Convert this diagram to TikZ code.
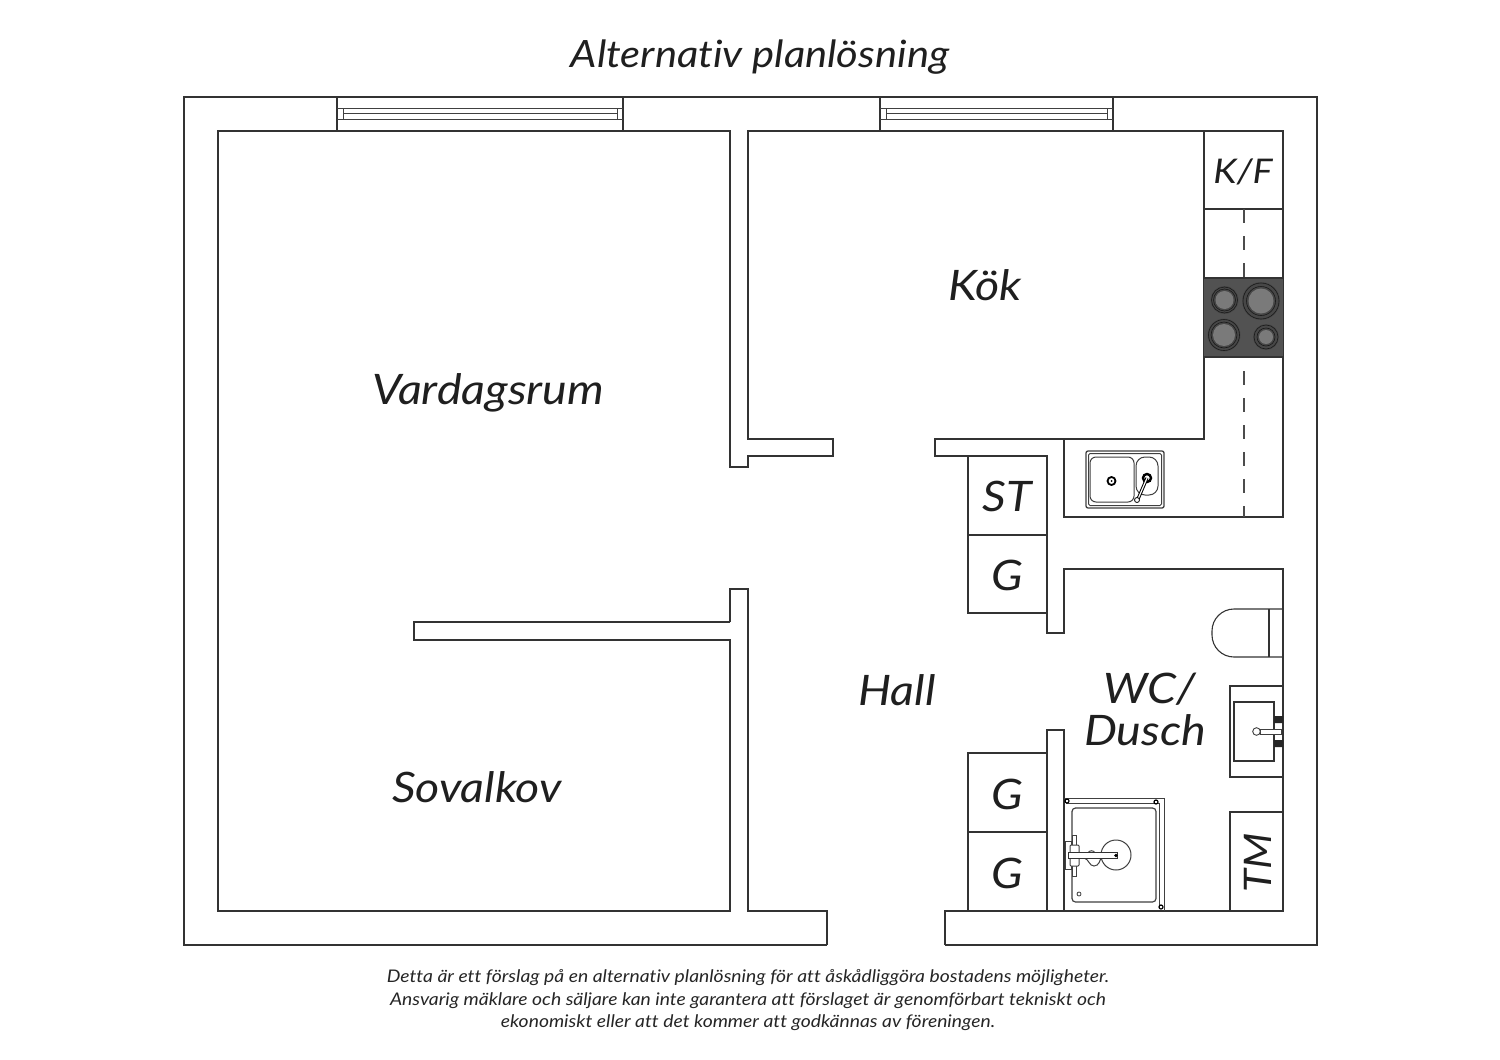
\documentclass[tikz,border=0pt]{standalone}
\usepackage{fontspec}
\setmainfont{Lato}[Ligatures=CommonOff,FakeStretch=1.11]
\begin{document}
\begin{tikzpicture}[x=1pt,y=-1pt,
  wall/.style={draw=black!80,line width=1.25pt,line join=miter},
  thin/.style={draw=black!75,line width=1pt},
  lab/.style={inner sep=0pt,font=\fontsize{42}{46}\selectfont\itshape,text=black!88},
  small/.style={inner sep=0pt,font=\fontsize{17.4}{20}\selectfont\itshape,text=black!85}]
\useasboundingbox[fill=white] (0,0) rectangle (1500,1060);
% outer wall
\draw[wall] (827,945) -- (184,945) -- (184,97) -- (1317,97) -- (1317,945) -- (945,945);
% main wall line
\draw[wall] (730,622) -- (414,622) -- (414,640) -- (730,640) -- (730,911) -- (218,911) -- (218,131) -- (730,131) -- (730,467) -- (748,467) -- (748,456) -- (833,456) -- (833,439) -- (748,439) -- (748,131) -- (1283,131) -- (1283,517) -- (1064,517) -- (1064,439);
\draw[wall] (730,622) -- (730,589) -- (748,589) -- (748,911) -- (827,911) -- (827,945);
\draw[wall] (1204,131) -- (1204,439) -- (935,439) -- (935,456) -- (1047,456) -- (1047,633) -- (1064,633) -- (1064,569) -- (1283,569) -- (1283,911) -- (945,911) -- (945,945);
\draw[wall] (1047,911) -- (1047,730) -- (1064,730) -- (1064,911);
% cabinets
\draw[wall] (968,456) -- (968,613) -- (1047,613);
\draw[wall] (968,535) -- (1047,535);
\draw[wall] (968,911) -- (968,753) -- (1047,753);
\draw[wall] (968,832) -- (1047,832);
\draw[wall] (1204,209) -- (1283,209);
\draw[wall] (1230,911) -- (1230,812) -- (1283,812);
% windows
\foreach \a/\b in {337/623,880/1113}{
  \draw[wall] (\a,97) -- (\a,131);
  \draw[wall] (\b,97) -- (\b,131);
  \draw[thin] (\a,108) -- (\b,108);
  \draw[thin] (\a,119) -- (\b,119);
  \draw[thin] (\a+6,113.5) -- (\b-6,113.5);
  \draw[thin] (\a+6,108) -- (\a+6,119);
  \draw[thin] (\b-6,108) -- (\b-6,119);
}
% counter dashes
\draw[draw=black!70,line width=1.3pt,dash pattern=on 14pt off 13pt] (1244,209) -- (1244,517);
% stove
\fill[black!68] (1204,278) rectangle (1283,357);
\draw[wall] (1204,278) -- (1283,278) (1204,357) -- (1283,357);
\foreach \x/\y/\r/\i in {1224.5/300/14/9,1261/301/19/12.5,1224/335/16.5/11,1266/337/13/7}{
  \fill[black!72] (\x,\y) circle[radius=\r];
  \draw[black!90,line width=.6pt] (\x,\y) circle[radius=\r-1];
  \draw[black!90,line width=.6pt] (\x,\y) circle[radius=\i+2];
  \fill[black!52] (\x,\y) circle[radius=\i];
}
% sink
\draw[thin,rounded corners=2pt,line width=1.3pt] (1086,451) rectangle (1164,508);
\draw[thin,rounded corners=1.5pt] (1088.5,453.5) rectangle (1161.5,505.5);
\draw[thin,rounded corners=6pt] (1090,457) rectangle (1134,502);
\draw[thin,rounded corners=9pt] (1136,457) rectangle (1158,495);
\draw[black,line width=1.8pt] (1111.5,481) circle[radius=4];
\fill[black] (1111.5,481) circle[radius=1];
\draw[black,line width=2.4pt] (1147,478) circle[radius=4];
\draw[black,line width=3.2pt] (1147,478) -- (1138,499);
\draw[white,line width=1.2pt] (1147,478) -- (1138,499);
\draw[black,fill=white,line width=.8pt] (1137,500) circle[radius=2.5];
% toilet
\draw[wall,line width=1.1pt,rounded corners=22pt] (1283,609) -- (1212,609) -- (1212,657) -- (1283,657);
\draw[wall,line width=1.1pt] (1269,609) -- (1269,657);
% basin
\draw[wall,line width=1.1pt] (1283,686) -- (1230,686) -- (1230,777) -- (1283,777);
\draw[wall,line width=1.1pt] (1234,702) rectangle (1274,761);
\fill[black!85] (1274,716) rectangle (1283,723) (1274,740) rectangle (1283,747);
\draw[black!75,line width=.9pt,fill=white] (1260,729) rectangle (1281,734);
\draw[black!75,line width=.9pt,fill=white] (1256.5,731.5) circle[radius=3.8];
% shower
\draw[thin] (1064,798) -- (1164,798) -- (1164,911);
\draw[thin] (1066,803) -- (1159,803) -- (1159,909);
\draw[thin,line width=1.2pt,rounded corners=3.5pt] (1072,808) rectangle (1156,902);
\draw[thin] (1116,855) circle[radius=15];
\draw[thin,fill=white] (1072,835) rectangle (1076,876);
\draw[thin,fill=white] (1065,841) rectangle (1071,869);
\draw[thin,rounded corners=1pt,fill=white] (1070,845) rectangle (1079,866);
\draw[thin] (1084,858) .. controls (1089,859) and (1089,866) .. (1094,866) .. controls (1099,866) and (1100,860) .. (1101,858);
\draw[thin] (1088,853) .. controls (1089,850) and (1094,850) .. (1095,853);
\draw[black!80,line width=1pt,fill=white] (1068,852.5) rectangle (1117,858.5);
\fill[black] (1116,855.5) circle[radius=1.8];
\foreach \x/\y in {1067/801,1156/802,1161/907}{\draw[black,line width=1.2pt] (\x,\y) circle[radius=2];}
\draw[black!75,line width=.8pt] (1079,894) circle[radius=2];
% labels
\node[inner sep=0pt,font=\fontsize{37.6}{42}\selectfont\itshape,text=black!88] (title) at (760,57) {Alternativ planlösning};
\node[lab] (vard) at (488,393) {Vardagsrum};
\node[lab] (kok) at (985,285) {Kök};
\node[lab] (sova) at (477,787) {Sovalkov};
\node[lab] (hall) at (897,690) {Hall};
\node[lab] (wc) at (1150,689) {WC/};
\node[lab] (dusch) at (1145,730) {Dusch};
\node[lab] (st) at (1007,496) {ST};
\node[lab] (g1) at (1007,575) {G};
\node[lab] (g2) at (1007,794) {G};
\node[lab] (g3) at (1007,873) {G};
\node[lab,font=\fontsize{34}{40}\selectfont\itshape] (kf) at (1243,172) {K/F};
\node[lab,rotate=90,font=\fontsize{38}{42}\selectfont\itshape] (tm) at (1258,862.5) {TM};
\node[small] (f1) at (748,978) {Detta är ett förslag på en alternativ planlösning för att åskådliggöra bostadens möjligheter.};
\node[small] (f2) at (748,1000.5) {Ansvarig mäklare och säljare kan inte garantera att förslaget är genomförbart tekniskt och};
\node[small] (f3) at (748,1023) {ekonomiskt eller att det kommer att godkännas av föreningen.};
\end{tikzpicture}
\end{document}
